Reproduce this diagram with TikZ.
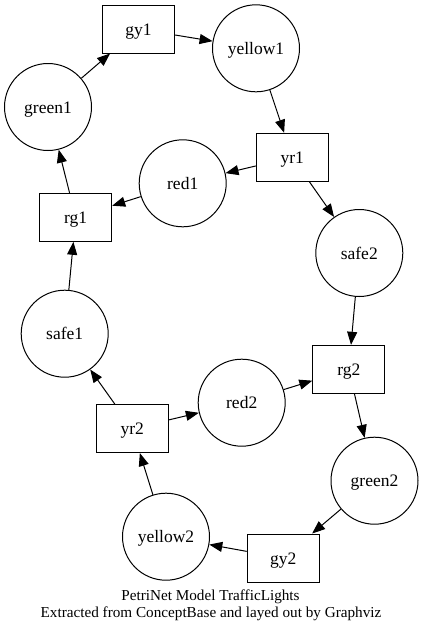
\documentclass[tikz,border=0pt]{standalone}
\usepackage{fontspec}
\setmainfont{Liberation Serif}
\usetikzlibrary{arrows.meta}
\tikzset{
  lbl/.style={font=\fontsize{17.5}{20}\selectfont, text height=12pt, text depth=0pt},
  place/.style={draw, circle, line width=1pt, minimum size=87pt, inner sep=0pt, lbl},
  trans/.style={draw, rectangle, line width=1pt, minimum width=72pt, minimum height=48pt, inner sep=0pt, lbl},
  arc/.style={line width=1pt, -{Triangle[length=13pt,width=10pt]}},
  caption/.style={font=\fontsize{15.2}{17}\selectfont, inner sep=0pt, anchor=base}
}
\begin{document}
\begin{tikzpicture}[x=1pt,y=-1pt]
\useasboundingbox (0,0) rectangle (423,633);
\node[trans] (gy1) at (138.5,29) {gy1};
\node[place] (yellow1) at (256,48.3) {yellow1};
\node[place] (green1) at (48,107) {green1};
\node[trans] (yr1) at (292.3,157.3) {yr1};
\node[place] (red1) at (182.7,183.3) {red1};
\node[trans] (rg1) at (75.7,217.3) {rg1};
\node[place] (safe2) at (359.3,253) {safe2};
\node[place] (safe1) at (64.7,333.7) {safe1};
\node[trans] (rg2) at (348.8,369.3) {rg2};
\node[place] (red2) at (241.7,402.7) {red2};
\node[trans] (yr2) at (132.2,428.5) {yr2};
\node[place] (green2) at (374.5,480.7) {green2};
\node[place] (yellow2) at (166,536.7) {yellow2};
\node[trans] (gy2) at (283.2,558) {gy2};
\node[caption] (cap1) at (210.5,600.3) {PetriNet Model TrafficLights};
\node[caption] (cap2) at (211,617.3) {Extracted from ConceptBase and layed out by Graphviz};
\draw[arc] (green1) -- (gy1);
\draw[arc] (gy1) -- (yellow1);
\draw[arc] (yellow1) -- (yr1);
\draw[arc] (yr1) -- (red1);
\draw[arc] (yr1) -- (safe2);
\draw[arc] (red1) -- (rg1);
\draw[arc] (rg1) -- (green1);
\draw[arc] (safe2) -- (rg2);
\draw[arc] (safe1) -- (rg1);
\draw[arc] (yr2) -- (safe1);
\draw[arc] (yr2) -- (red2);
\draw[arc] (red2) -- (rg2);
\draw[arc] (rg2) -- (green2);
\draw[arc] (green2) -- (gy2);
\draw[arc] (gy2) -- (yellow2);
\draw[arc] (yellow2) -- (yr2);
\end{tikzpicture}
\end{document}
